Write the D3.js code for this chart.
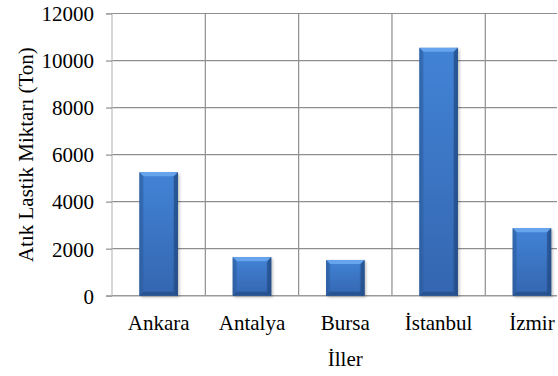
<!DOCTYPE html>
<html>
<head>
<meta charset="utf-8">
<script src="https://cdn.jsdelivr.net/npm/d3@7/dist/d3.min.js"></script>
</head>
<body style="margin:0;padding:0;background:#fff">
<svg id="chart" width="558" height="376" style="display:block"></svg>
<script>
// Waste tyre amounts by province (tons)
const categories = ["Ankara", "Antalya", "Bursa", "İstanbul", "İzmir"];
const values = [5250, 1640, 1520, 10540, 2870];
const yTicks = [0, 2000, 4000, 6000, 8000, 10000, 12000];
const yTitle = "Atık Lastik Miktarı (Ton)";
const xTitle = "İller";

(function draw() {
  const plotLeft = 112, plotRight = 578.6, plotTop = 13.5, plotBottom = 295.7;
  const visibleRight = 557;
  const serif = '"Liberation Serif"';
  const fontPx = "21px";

  const svg = d3.select("#chart");

  const x = d3.scaleBand().domain(categories).range([plotLeft, plotRight]).padding(0);
  const y = d3.scaleLinear().domain([0, 12000]).range([plotBottom, plotTop]);

  // gradients for the bevelled bars
  const defs = svg.append("defs");
  const body = defs.append("linearGradient").attr("id", "barBody")
    .attr("x1", 0).attr("y1", 0).attr("x2", 0).attr("y2", 1);
  body.append("stop").attr("offset", "0%").attr("stop-color", "#4283d6");
  body.append("stop").attr("offset", "100%").attr("stop-color", "#3466b0");

  const side = defs.append("linearGradient").attr("id", "barSide")
    .attr("x1", 0).attr("y1", 0).attr("x2", 1).attr("y2", 0);
  side.append("stop").attr("offset", "0%").attr("stop-color", "#000").attr("stop-opacity", 0.18);
  side.append("stop").attr("offset", "12%").attr("stop-color", "#000").attr("stop-opacity", 0.0);
  side.append("stop").attr("offset", "85%").attr("stop-color", "#000").attr("stop-opacity", 0.0);
  side.append("stop").attr("offset", "100%").attr("stop-color", "#000").attr("stop-opacity", 0.25);

  const shadow = defs.append("filter").attr("id", "shadow")
    .attr("x", "-20%").attr("y", "-20%").attr("width", "140%").attr("height", "140%");
  shadow.append("feGaussianBlur").attr("stdDeviation", 1.5);

  // horizontal gridlines
  svg.append("g").selectAll("line").data(yTicks.filter(d => d > 0)).join("line")
    .attr("x1", plotLeft).attr("x2", visibleRight)
    .attr("y1", d => y(d)).attr("y2", d => y(d))
    .attr("stroke", "#8e8e8e").attr("stroke-width", 1.2);

  // vertical gridlines at category boundaries
  const bounds = categories.slice(1).map(c => x(c));
  svg.append("g").selectAll("line").data(bounds).join("line")
    .attr("x1", d => d).attr("x2", d => d)
    .attr("y1", plotTop).attr("y2", plotBottom)
    .attr("stroke", "#8e8e8e").attr("stroke-width", 1.2);

  // y axis with outward ticks
  const yAxis = d3.axisLeft(y).tickValues(yTicks).tickSize(6).tickPadding(12)
    .tickFormat(d3.format("d"));
  const gy = svg.append("g").attr("transform", `translate(${plotLeft},0)`).call(yAxis);
  gy.select(".domain").attr("stroke", "#bdbdbd").attr("stroke-width", 1.2)
    .attr("d", `M-6,${plotTop}H0V${plotBottom}H-6`);
  gy.selectAll(".tick line").attr("stroke", "#8e8e8e").attr("stroke-width", 1.2);
  gy.selectAll(".tick text").attr("dy", "0.35em").attr("fill", "#000")
    .style("font-family", serif).style("font-size", fontPx);

  // x axis line
  svg.append("line").attr("x1", plotLeft).attr("x2", visibleRight)
    .attr("y1", plotBottom).attr("y2", plotBottom)
    .attr("stroke", "#9a9a9a").attr("stroke-width", 1.4);

  // bars
  const bw = x.bandwidth() * 0.413;
  const bev = 4;
  const bars = svg.append("g").selectAll("g")
    .data(categories.map((c, i) => ({c, v: values[i]}))).join("g")
    .attr("transform", d => `translate(${x(d.c) + (x.bandwidth() - bw) / 2},0)`);

  bars.append("rect").attr("x", 1.5).attr("y", d => y(d.v) + 1.5)
    .attr("width", bw).attr("height", d => plotBottom - y(d.v))
    .attr("fill", "#000").attr("opacity", 0.25).attr("filter", "url(#shadow)");

  bars.append("rect").attr("x", 0).attr("y", d => y(d.v))
    .attr("width", bw).attr("height", d => plotBottom - y(d.v))
    .attr("fill", "url(#barBody)");

  bars.append("rect").attr("x", 0).attr("y", d => y(d.v))
    .attr("width", bw).attr("height", d => plotBottom - y(d.v))
    .attr("fill", "url(#barSide)");

  // top bevel
  bars.append("path").attr("d", d => {
    const t = y(d.v);
    return `M0,${t}H${bw}L${bw - bev},${t + bev}H${bev}Z`;
  }).attr("fill", "#6aa9f0").attr("opacity", 0.9);
  // left bevel
  bars.append("path").attr("d", d => {
    const t = y(d.v);
    return `M0,${t}L${bev},${t + bev}V${plotBottom - bev}L0,${plotBottom}Z`;
  }).attr("fill", "#2f62a8").attr("opacity", 0.6);
  // right bevel
  bars.append("path").attr("d", d => {
    const t = y(d.v);
    return `M${bw},${t}L${bw - bev},${t + bev}V${plotBottom - bev}L${bw},${plotBottom}Z`;
  }).attr("fill", "#244f8c").attr("opacity", 0.75);
  // bottom bevel
  bars.append("path")
    .attr("d", `M0,${plotBottom}L${bev},${plotBottom - bev}H${bw - bev}L${bw},${plotBottom}Z`)
    .attr("fill", "#244f8c").attr("opacity", 0.8);

  // category labels
  svg.append("g").selectAll("text").data(categories).join("text")
    .attr("x", d => x(d) + x.bandwidth() / 2).attr("y", 330)
    .attr("text-anchor", "middle").attr("fill", "#000")
    .style("font-family", serif).style("font-size", fontPx)
    .text(d => d);

  // axis titles
  svg.append("text").attr("x", (plotLeft + plotRight) / 2).attr("y", 366)
    .attr("text-anchor", "middle").attr("fill", "#000")
    .style("font-family", serif).style("font-size", fontPx)
    .text(xTitle);

  svg.append("text")
    .attr("transform", `translate(32.5,${(plotTop + plotBottom) / 2}) rotate(-90)`)
    .attr("text-anchor", "middle").attr("fill", "#000")
    .style("font-family", serif).style("font-size", fontPx)
    .text(yTitle);
})();
</script>
</body>
</html>
